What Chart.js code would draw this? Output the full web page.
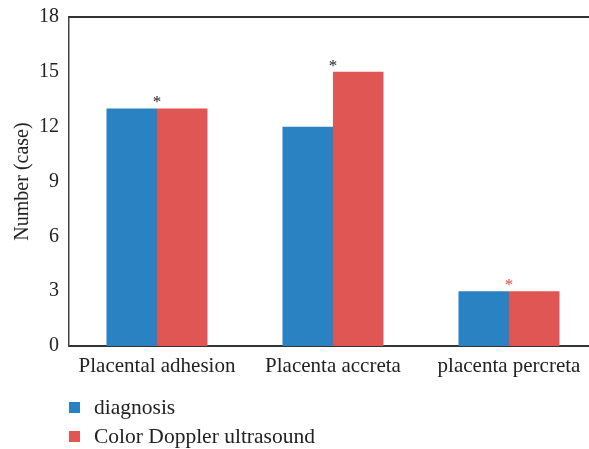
<!DOCTYPE html>
<html>
<head>
<meta charset="utf-8">
<script src="https://cdn.jsdelivr.net/npm/chart.js@4/dist/chart.umd.min.js"></script>
<style>
  html, body { margin:0; padding:0; background:#fff; overflow:hidden; }
  #wrap { position:relative; width:589px; height:449px; overflow:hidden; }
  #chart { position:absolute; left:0; top:-5px; }
  #legend { position:absolute; left:69px; top:393px; font-family:"Liberation Serif", serif; font-size:21.5px; color:#222; }
  .legend-row { display:flex; align-items:center; height:29px; }
  .legend-row .sq { width:11px; height:11px; margin-right:14px; }
</style>
</head>
<body>
<div id="wrap">
  <canvas id="chart" width="600" height="454"></canvas>
  <div id="legend"></div>
</div>
<script>
const categories = ['Placental adhesion', 'Placenta accreta', 'placenta percreta'];
const seriesNames = ['diagnosis', 'Color Doppler ultrasound'];
const diagnosis = [13, 12, 3];
const doppler = [13, 15, 3];
const seriesColors = ['#2b82c2', '#df5653'];
const starColors = ['#222222', '#222222', '#e8453c'];
const yTicks = [0, 3, 6, 9, 12, 15, 18];

const FONT = '"Liberation Serif", serif';

// legend
document.getElementById('legend').innerHTML = seriesNames.map((n,i)=>`
  <div class="legend-row"><span class="sq" style="background:${seriesColors[i]}"></span><span>${n}</span></div>`).join('');

// asterisks above each group + top frame line
const marks = {
  id:'marks',
  afterDatasetsDraw(chart) {
    const {ctx, chartArea, scales:{x, y}} = chart;
    ctx.save();
    ctx.strokeStyle = '#333';
    ctx.lineWidth = 2;
    ctx.beginPath();
    ctx.moveTo(chartArea.left, chartArea.top);
    ctx.lineTo(chartArea.right, chartArea.top);
    ctx.stroke();
    ctx.font = '17px ' + FONT;
    ctx.textAlign = 'center';
    ctx.textBaseline = 'alphabetic';
    categories.forEach((c,i)=>{
      const top = Math.max(diagnosis[i], doppler[i]);
      ctx.fillStyle = starColors[i];
      ctx.fillText('*', x.getPixelForValue(i), y.getPixelForValue(top) - 1);
    });
    ctx.restore();
  }
};

new Chart(document.getElementById('chart'), {
  type:'bar',
  data:{ labels:categories, datasets:[
    { label:seriesNames[0], data:diagnosis, backgroundColor:seriesColors[0] },
    { label:seriesNames[1], data:doppler,   backgroundColor:seriesColors[1] }
  ]},
  options:{
    responsive:false, animation:false,
    layout:{ padding:{ top:11, right:3, bottom:0, left:0 } },
    plugins:{ legend:{display:false}, tooltip:{enabled:false} },
    datasets:{ bar:{ categoryPercentage:0.574, barPercentage:1 } },
    scales:{
      x:{
        grid:{ display:false, drawTicks:false },
        border:{ color:'#333', width:2 },
        ticks:{ color:'#222', padding:8, font:{ family:FONT, size:21 } },
        afterFit(s){ s.height = 103; }
      },
      y:{
        min:0, max:18,
        afterBuildTicks(s){ s.ticks = yTicks.map(v=>({value:v})); },
        grid:{ display:false, drawTicks:false },
        border:{ color:'#444', width:1.5 },
        ticks:{ color:'#222', padding:10, font:{ family:FONT, size:20 } },
        title:{ display:true, text:'Number (case)', color:'#222', padding:{top:11, bottom:0}, font:{ family:FONT, size:20 } },
        afterFit(s){ s.width = 69; }
      }
    }
  },
  plugins:[marks]
});
</script>
</body>
</html>
